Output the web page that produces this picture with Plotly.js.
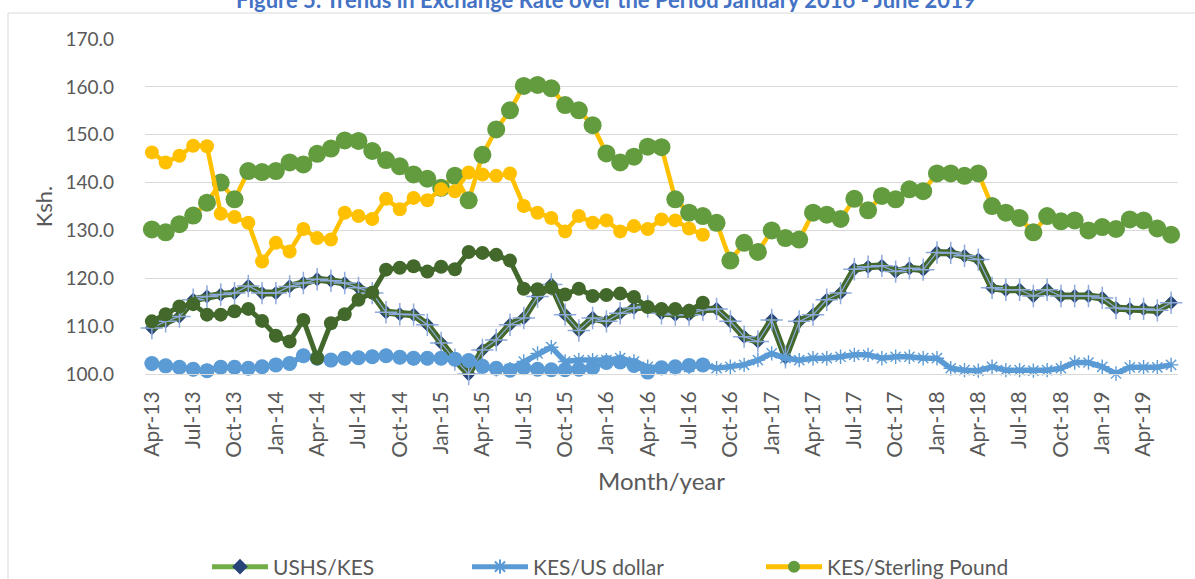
<!DOCTYPE html>
<html>
<head>
<meta charset="utf-8">
<script src="https://cdn.plot.ly/plotly-3.0.1.min.js"></script>
<style>
html,body{margin:0;padding:0;background:#fff;}
#chart{width:1195px;height:579px;}
</style>
</head>
<body>
<div id="chart"></div>
<script>
// ---- categories (months) ----
const months = [
 'Apr-13','May-13','Jun-13','Jul-13','Aug-13','Sep-13','Oct-13','Nov-13','Dec-13',
 'Jan-14','Feb-14','Mar-14','Apr-14','May-14','Jun-14','Jul-14','Aug-14','Sep-14','Oct-14','Nov-14','Dec-14',
 'Jan-15','Feb-15','Mar-15','Apr-15','May-15','Jun-15','Jul-15','Aug-15','Sep-15','Oct-15','Nov-15','Dec-15',
 'Jan-16','Feb-16','Mar-16','Apr-16','May-16','Jun-16','Jul-16','Aug-16','Sep-16','Oct-16','Nov-16','Dec-16',
 'Jan-17','Feb-17','Mar-17','Apr-17','May-17','Jun-17','Jul-17','Aug-17','Sep-17','Oct-17','Nov-17','Dec-17',
 'Jan-18','Feb-18','Mar-18','Apr-18','May-18','Jun-18','Jul-18','Aug-18','Sep-18','Oct-18','Nov-18','Dec-18',
 'Jan-19','Feb-19','Mar-19','Apr-19','May-19','Jun-19'
];
const tickLabels = ['Apr-13','Jul-13','Oct-13','Jan-14','Apr-14','Jul-14','Oct-14','Jan-15','Apr-15','Jul-15','Oct-15',
 'Jan-16','Apr-16','Jul-16','Oct-16','Jan-17','Apr-17','Jul-17','Oct-17','Jan-18','Apr-18','Jul-18','Oct-18','Jan-19','Apr-19'];

// ---- series values ----
const kesSterling = [130.2,129.6,131.3,133.1,135.8,140.0,136.5,142.4,142.2,142.4,144.2,143.8,146.0,147.1,148.8,148.7,
 146.6,144.7,143.4,141.7,140.8,138.9,141.4,136.3,145.8,151.1,155.1,160.2,160.4,159.7,156.2,155.1,152.0,146.1,144.2,
 145.4,147.5,147.4,136.5,133.7,133.0,131.6,123.7,127.4,125.5,130.0,128.4,128.1,133.7,133.3,132.4,136.6,134.2,137.2,
 136.5,138.6,138.2,141.9,141.9,141.4,141.9,135.1,133.7,132.6,129.6,133.0,131.9,132.1,130.0,130.7,130.3,132.3,132.1,
 130.4,129.1];
const ushsKes = [109.6,111.0,112.0,115.5,116.2,116.6,116.9,118.4,116.9,116.9,118.3,119.0,119.8,119.5,119.0,118.0,
 116.9,112.9,112.5,112.4,110.3,106.5,103.0,100.0,105.0,107.1,110.3,111.7,116.2,118.7,112.4,109.1,111.7,111.0,112.7,
 113.8,114.1,112.7,112.4,112.4,113.4,113.6,111.0,107.8,106.8,111.3,103.5,111.0,112.4,115.5,116.9,121.9,122.4,122.6,
 121.4,122.1,121.8,125.4,125.3,124.7,123.9,118.0,117.6,117.6,116.3,117.6,116.3,116.3,116.3,115.9,113.8,113.6,113.6,
 113.3,114.9];
const kesUsDollar = [102.2,101.7,101.4,101.0,100.7,101.4,101.4,101.2,101.5,101.9,102.2,103.8,103.3,102.9,103.3,103.4,
 103.6,103.8,103.5,103.3,103.3,103.3,103.1,102.8,101.5,101.0,101.0,102.6,104.3,105.6,102.6,102.9,102.9,102.9,103.3,
 102.6,101.5,101.2,101.2,101.5,101.9,101.2,101.5,101.9,102.9,104.3,103.3,102.9,103.3,103.3,103.6,104.0,104.0,103.3,
 103.6,103.6,103.3,103.3,101.2,100.8,100.7,101.5,100.8,100.8,100.7,100.8,101.2,102.4,102.4,101.5,100.1,101.4,101.4,
 101.4,101.9];
// series drawn only up to Aug-16 (their legend entries are outside the visible crop)
const sterlingSeries2 = [146.3,144.2,145.6,147.7,147.6,133.5,132.8,131.6,123.5,127.4,125.6,130.3,128.4,128.1,133.7,133.0,
 132.4,136.6,134.4,136.8,136.3,138.6,138.2,142.1,141.7,141.4,141.9,135.1,133.7,132.6,129.8,133.0,131.6,132.1,129.8,
 130.9,130.3,132.3,132.1,130.4,129.1];
const greenSeries2 = [111.0,112.5,114.1,114.6,112.4,112.4,113.1,113.6,111.1,108.0,106.8,111.3,103.3,110.6,112.5,115.5,
 117.0,121.8,122.2,122.5,121.4,122.4,121.9,125.5,125.3,124.9,123.7,117.8,117.7,118.0,116.6,117.8,116.3,116.5,116.8,
 116.1,114.0,113.6,113.6,113.2,114.9];
const blueSeries2 = [102.2,101.7,101.4,101.0,100.7,101.4,101.4,101.2,101.5,101.9,102.2,103.8,103.3,102.9,103.3,103.4,
 103.6,103.8,103.5,103.3,103.3,103.3,103.1,102.8,101.6,101.2,100.8,101.3,101.0,100.9,100.9,101.0,101.3,102.4,102.5,
 101.8,100.4,101.3,101.5,101.8,101.9];

const FONT = 'Lato, "Open Sans", sans-serif';
const GREY = '#595959';
const xs = n => months.slice(0, n);

const traces = [
  { // legend entry 1 (lies underneath)
    name:'USHS/KES', x: xs(ushsKes.length), y: ushsKes, mode:'lines+markers', legend:'legend',
    line:{color:'#70AD47', width:6}, marker:{symbol:'diamond', color:'#264478', size:11}, cliponaxis:false
  },
  {
    name:'USHS/KES dark', x: xs(ushsKes.length), y: ushsKes, mode:'lines', showlegend:false,
    line:{color:'#43682B', width:7}, cliponaxis:false
  },
  {
    name:'USHS/KES plus', x: xs(ushsKes.length), y: ushsKes, mode:'lines+markers', showlegend:false,
    line:{color:'#8FAADC', width:1.2},
    marker:{symbol:'cross-thin-open', size:16, line:{color:'#8FAADC', width:1.5}}, cliponaxis:false
  },
  {
    name:'KES/US dollar', x: xs(kesUsDollar.length), y: kesUsDollar, mode:'lines+markers', legend:'legend2',
    line:{color:'#5B9BD5', width:5.5},
    marker:{symbol:'asterisk-open', size:12, color:'#5B9BD5', line:{color:'#5B9BD5', width:1.4}}, cliponaxis:false
  },
  {
    name:'blue2', x: xs(blueSeries2.length), y: blueSeries2, mode:'lines+markers', showlegend:false,
    line:{color:'#5B9BD5', width:5}, marker:{symbol:'circle', color:'#5B9BD5', size:15}, cliponaxis:false
  },
  {
    name:'green2', x: xs(greenSeries2.length), y: greenSeries2, mode:'lines+markers', showlegend:false,
    line:{color:'#43682B', width:5}, marker:{symbol:'circle', color:'#43682B', size:14}, cliponaxis:false
  },
  {
    name:'KES/Sterling Pound', x: xs(kesSterling.length), y: kesSterling, mode:'lines+markers', legend:'legend3',
    line:{color:'#FFC000', width:4.5}, marker:{symbol:'circle', color:'#639C3F', size:18}, cliponaxis:false
  },
  {
    name:'sterling2', x: xs(sterlingSeries2.length), y: sterlingSeries2, mode:'lines+markers', showlegend:false,
    line:{color:'#FFC000', width:4.5}, marker:{symbol:'circle', color:'#FFC000', size:14}, cliponaxis:false
  }
];

// plot area in pixels: left 145, right 1178, top 39, bottom 374
const L = 145, R = 1178, T = 39, B = 374, W = 1195, H = 579;
const px2x = p => (p - L) / (R - L);
const px2y = p => (B - p) / (B - T);
const cy = p => 1 - p / H;  // container y

const legendBase = {orientation:'h', yref:'container', yanchor:'middle', xanchor:'left', y: cy(567),
  font:{family:FONT, size:21, color:GREY}, bgcolor:'rgba(0,0,0,0)', borderwidth:0,
  itemsizing:'constant', itemwidth:56};

const layout = {
  width: W, height: H,
  margin:{l:L, r:W-R, t:T, b:H-B, pad:0, autoexpand:false},
  paper_bgcolor:'#ffffff', plot_bgcolor:'#ffffff',
  font:{family:FONT, color:GREY},
  showlegend:true,
  legend: Object.assign({}, legendBase, {x: px2x(207)}),
  legend2: Object.assign({}, legendBase, {x: px2x(467)}),
  legend3: Object.assign({}, legendBase, {x: px2x(761)}),
  xaxis:{
    type:'category', range:[-0.5, months.length - 0.5],
    tickmode:'array', tickvals: tickLabels, ticktext: tickLabels, tickangle:-90,
    tickfont:{family:FONT, size:21, color:GREY}, ticks:'', ticklabelstandoff:8,
    showgrid:false, zeroline:false, showline:true, linecolor:'#D9D9D9', linewidth:1,
    title:{text:'Month/year', font:{family:FONT, size:24, color:GREY}, standoff:16},
    automargin:false, fixedrange:true
  },
  yaxis:{
    range:[100,170], dtick:10, tick0:100, tickformat:'.1f',
    tickfont:{family:FONT, size:19, color:GREY}, ticks:'', ticklabelstandoff:30,
    showgrid:true, gridcolor:'#D9D9D9', gridwidth:1, zeroline:false, showline:false,
    title:{text:'Ksh.', font:{family:FONT, size:22, color:GREY}, standoff:6},
    automargin:false, fixedrange:true
  },
  annotations:[{
    text:'<b>Figure 5: Trends in Exchange Rate over the Period January 2016 - June 2019</b>',
    xref:'paper', yref:'paper', x: px2x(606), y: px2y(-1), xanchor:'center', yanchor:'middle',
    showarrow:false, font:{family:FONT, size:22, color:'#4472C4'}
  }],
  shapes:[{
    type:'rect', xref:'paper', yref:'paper', x0: px2x(8), x1: px2x(1230), y0: px2y(620), y1: px2y(13),
    line:{color:'#D9D9D9', width:1}, fillcolor:'rgba(0,0,0,0)', layer:'below'
  }]
};

Plotly.newPlot('chart', traces, layout, {displayModeBar:false, staticPlot:true});
</script>
</body>
</html>
